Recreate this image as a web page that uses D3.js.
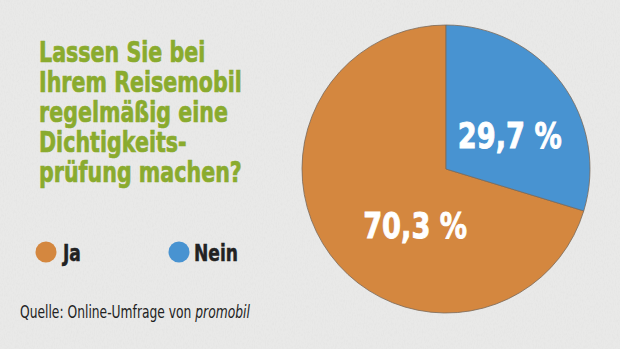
<!DOCTYPE html>
<html>
<head>
<meta charset="utf-8">
<script src="https://cdn.jsdelivr.net/npm/d3@7"></script>
<style>
  html, body { margin: 0; padding: 0; background: #e8e8e7; }
  svg { display: block; }
  text { font-family: "DejaVu Sans", sans-serif; }
</style>
</head>
<body>
<div id="chart"></div>
<script>
// Survey answers and shares in percent
const categories = ["Ja", "Nein"];
const values = [70.3, 29.7];
const colors = ["#d4873f", "#4893d1"];
const titleLines = ["Lassen Sie bei", "Ihrem Reisemobil", "regelmäßig eine", "Dichtigkeits-", "prüfung machen?"];

const w = 620;
const h = 349;

const svg = d3.select("#chart")
  .append("svg")
  .attr("width", w)
  .attr("height", h);

// Light concrete-like backdrop
const defs = svg.append("defs");
const grain = defs.append("filter").attr("id", "grain");
grain.append("feTurbulence")
  .attr("type", "fractalNoise")
  .attr("baseFrequency", "0.9 0.35")
  .attr("numOctaves", 3)
  .attr("seed", 4);
grain.append("feColorMatrix")
  .attr("type", "matrix")
  .attr("values", "0 0 0 0 0.5  0 0 0 0 0.5  0 0 0 0 0.5  0 0 0 -1.6 0.95");

svg.append("rect").attr("width", w).attr("height", h).attr("fill", "#e9e9e8");
svg.append("rect").attr("width", w).attr("height", h)
  .attr("filter", "url(#grain)").attr("opacity", 0.12);

// DejaVu is wide, so squeeze text horizontally down to a condensed look
const squeeze = (x, y, s) => `translate(${x},${y}) scale(${s},1)`;
const fitScale = (node, width) => width / node.getComputedTextLength();

// Question title
const title = svg.append("text")
  .attr("fill", "#8aab2e")
  .attr("stroke", "#8aab2e")
  .attr("stroke-width", 0.7)
  .style("font-weight", "bold")
  .style("font-size", "28px");

title.selectAll("tspan")
  .data(titleLines)
  .enter()
  .append("tspan")
  .attr("x", 0)
  .attr("dy", (d, i) => i === 0 ? 0 : 30)
  .text(d => d);

const titleScale = fitScale(title.selectAll("tspan").nodes()[1], 203);
title.attr("transform", squeeze(39, 62, titleScale));

// Pie
const cx = 446, cy = 169, r = 144;
const pie = d3.pie().sort(null).startAngle(2 * Math.PI).endAngle(0);
const arcs = pie(values);
const arc = d3.arc().innerRadius(0).outerRadius(r);

const g = svg.append("g").attr("transform", `translate(${cx},${cy})`);

g.selectAll("path")
  .data(arcs)
  .enter()
  .append("path")
  .attr("d", arc)
  .attr("fill", (d, i) => colors[i])
  .attr("stroke", "#7a6a5a")
  .attr("stroke-width", 0.8);

// Percentage labels inside the slices
const labelArc = d3.arc().innerRadius(r * 0.5).outerRadius(r * 0.5);
const fmt = v => d3.format(".1f")(v).replace(".", ",") + " %";
const labelOffset = [[27, 14], [6, 9]];

g.selectAll("text")
  .data(arcs)
  .enter()
  .append("text")
  .attr("text-anchor", "middle")
  .attr("dominant-baseline", "central")
  .attr("fill", "#ffffff")
  .attr("stroke", "#ffffff")
  .attr("stroke-width", 0.9)
  .style("font-weight", "bold")
  .style("font-size", "36px")
  .text((d, i) => fmt(values[i]))
  .attr("transform", function (d, i) {
    const c = labelArc.centroid(d);
    return squeeze(c[0] + labelOffset[i][0], c[1] + labelOffset[i][1], fitScale(this, 104));
  });

// Legend
const legendX = d3.scalePoint().domain(categories).range([46, 179]);

const legend = svg.append("g").attr("id", "legend");
const item = legend.selectAll("g")
  .data(categories)
  .enter()
  .append("g")
  .attr("transform", d => `translate(${legendX(d)},252)`);

item.append("circle")
  .attr("r", 10.5)
  .attr("fill", (d, i) => colors[i]);

const legendText = item.append("text")
  .attr("fill", "#222")
  .attr("stroke", "#222")
  .attr("stroke-width", 0.5)
  .style("font-weight", "bold")
  .style("font-size", "23px")
  .text(d => d);

const legendScale = fitScale(legendText.nodes()[1], 44);
legendText.attr("transform", (d, i) => squeeze(i === 0 ? 17 : 15, 9, legendScale));

// Source line
const source = svg.append("text")
  .attr("fill", "#222")
  .style("font-size", "18px");
source.append("tspan").text("Quelle: Online-Umfrage von ");
source.append("tspan").style("font-style", "italic").text("promobil");
source.attr("transform", squeeze(20, 318, fitScale(source.node(), 230)));
</script>
</body>
</html>
